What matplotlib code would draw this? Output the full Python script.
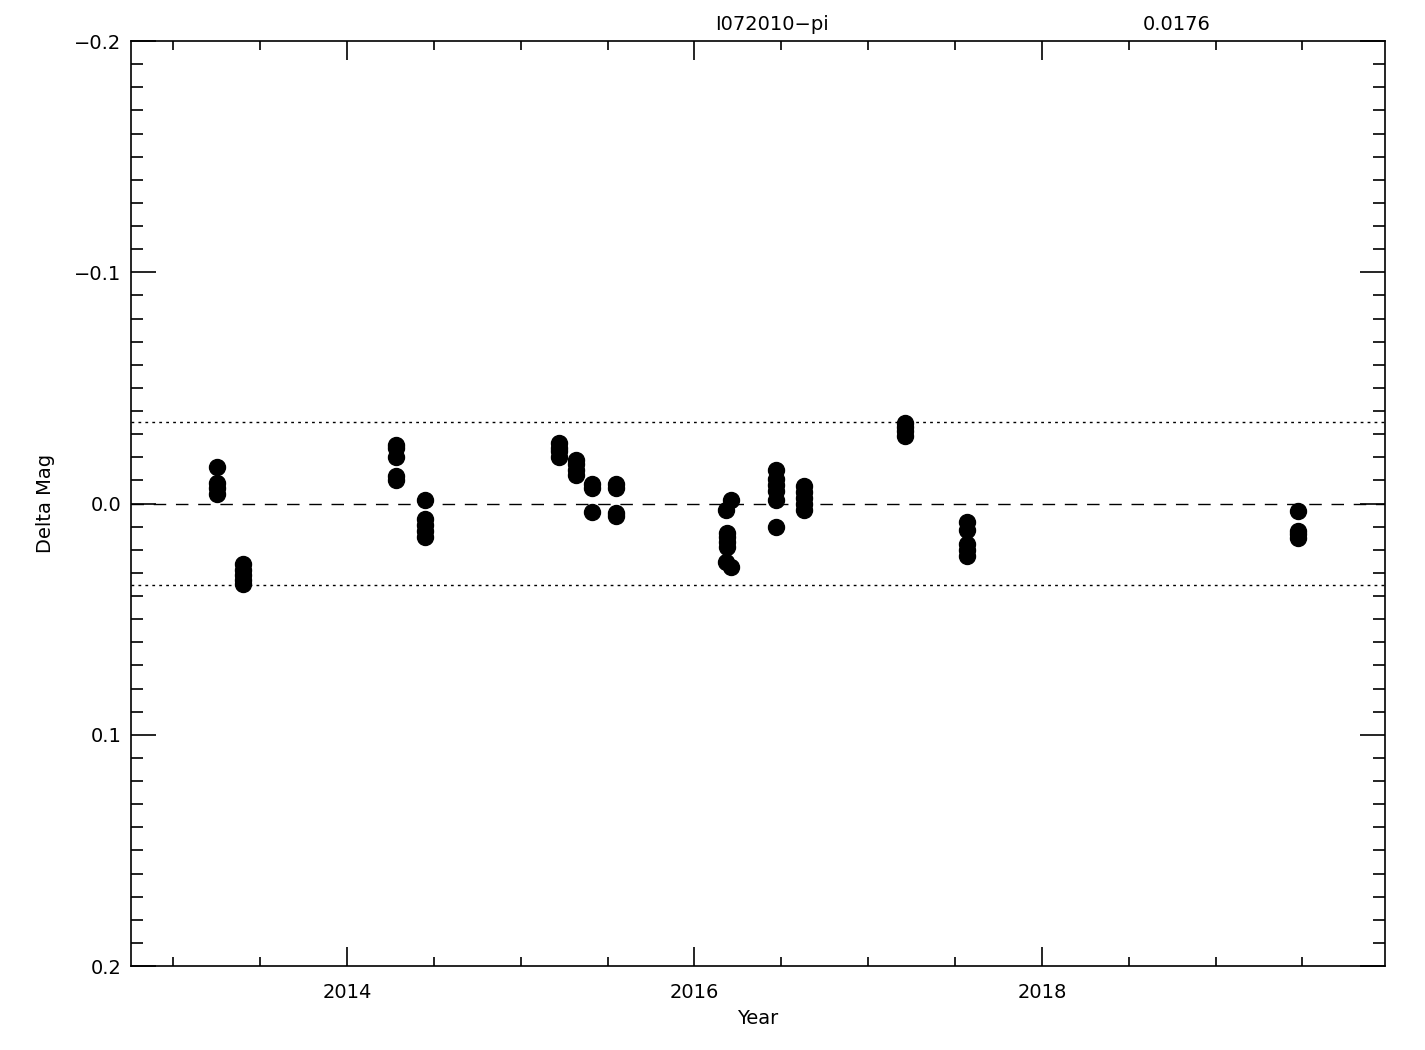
import matplotlib
matplotlib.use("Agg")
import matplotlib.pyplot as plt
from matplotlib.ticker import MultipleLocator, FuncFormatter

# Data (year, delta mag)
years = [
    2013.25, 2013.25, 2013.25, 2013.25,
    2013.40, 2013.40, 2013.40, 2013.40, 2013.40,
    2014.28, 2014.28, 2014.28, 2014.28, 2014.28,
    2014.45, 2014.45, 2014.45, 2014.45, 2014.45,
    2015.22, 2015.22, 2015.22, 2015.22,
    2015.32, 2015.32, 2015.32, 2015.32,
    2015.41, 2015.41, 2015.41,
    2015.55, 2015.55, 2015.55, 2015.55,
    2016.21, 2016.18, 2016.19, 2016.19, 2016.19, 2016.19, 2016.18, 2016.21,
    2016.47, 2016.47, 2016.47, 2016.47, 2016.47, 2016.47,
    2016.63, 2016.63, 2016.63, 2016.63, 2016.63,
    2017.21, 2017.21, 2017.21, 2017.21,
    2017.57, 2017.57, 2017.57, 2017.57, 2017.57,
    2019.475, 2019.475, 2019.475, 2019.475,
]
mags = [
    -0.0156, -0.0087, -0.0065, -0.0039,
    0.0260, 0.0286, 0.0310, 0.0330, 0.0350,
    -0.0251, -0.0238, -0.0203, -0.0121, -0.0100,
    -0.0014, 0.0069, 0.0095, 0.0117, 0.0143,
    -0.0260, -0.0242, -0.0225, -0.0203,
    -0.0187, -0.0169, -0.0147, -0.0124,
    -0.0084, -0.0066, 0.0035,
    -0.0084, -0.0066, 0.0039, 0.0056,
    -0.0013, 0.0030, 0.0126, 0.0146, 0.0166, 0.0186, 0.0255, 0.0273,
    -0.0143, -0.0108, -0.0078, -0.0052, -0.0017, 0.0102,
    -0.0074, -0.0048, -0.0022, 0.0004, 0.0030,
    -0.0346, -0.0329, -0.0312, -0.0290,
    0.0082, 0.0113, 0.0177, 0.0199, 0.0229,
    0.0032, 0.0117, 0.0134, 0.0150,
]
sigma = 0.0176
title_left = "I072010\u2212pi"
title_right = "0.0176"
x_ticks = [2014, 2016, 2018]
y_ticks = [-0.2, -0.1, 0.0, 0.1, 0.2]

plt.rcParams['font.family'] = ['DejaVu Sans']
FS = 14
fig = plt.figure(figsize=(14.25, 10.5), dpi=100)
ax = fig.add_axes([131/1425, 1-966/1050, (1385-131)/1425, (966-41)/1050])

ax.plot(years, mags, 'o', color='black', ms=11.5, mec='black', zorder=3)
ax.axhline(0.0, color='black', lw=1, dashes=(9, 7), zorder=2)
ax.axhline(2*sigma, color='black', lw=1, dashes=(2, 3), zorder=2)
ax.axhline(-2*sigma, color='black', lw=1, dashes=(2, 3), zorder=2)

ax.set_xlim(2012.757, 2019.975)
ax.set_ylim(0.2, -0.2)
ax.set_xticks(x_ticks)
ax.xaxis.set_minor_locator(MultipleLocator(0.5))
ax.set_yticks(y_ticks)
ax.yaxis.set_minor_locator(MultipleLocator(0.01))
ax.yaxis.set_major_formatter(FuncFormatter(lambda v, p: ("%.1f" % v).replace("-", "\u2212") if abs(v) > 1e-9 else "0.0"))

ax.tick_params(axis='both', which='both', direction='in', top=True, right=True,
               labelsize=FS, width=1.2, colors='black')
ax.tick_params(axis='x', which='major', length=13.5, pad=12)
ax.tick_params(axis='x', which='minor', length=6.5)
ax.tick_params(axis='y', which='major', length=18, pad=7)
ax.tick_params(axis='y', which='minor', length=8.5)
for s in ax.spines.values():
    s.set_linewidth(1.2)

ax.set_xlabel("Year", fontsize=FS, labelpad=5)
ax.set_ylabel("Delta Mag", fontsize=FS, labelpad=14)

fig.text(772/1425, 1-25/1050, title_left, ha='center', va='center', fontsize=FS)
fig.text(1177/1425, 1-25/1050, title_right, ha='center', va='center', fontsize=FS)

fig.savefig("out.png", dpi=100)
